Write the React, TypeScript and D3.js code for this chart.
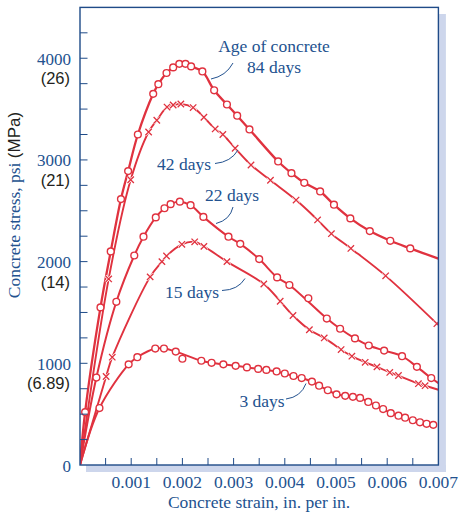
import React from "react";
import * as d3 from "d3";

// ---- data (strain in in./in., stress in psi) ----
const strain84 = [0, 0.0001, 0.0004, 0.0006, 0.0008, 0.00094, 0.00113, 0.00143, 0.00153, 0.00169, 0.00182, 0.00194, 0.00206, 0.00217, 0.00239, 0.00262, 0.00287, 0.00307, 0.00331, 0.00387, 0.00413, 0.00438, 0.00469, 0.00496, 0.00528, 0.00566, 0.00606, 0.00645, 0.007];
const stress84 = [0, 520, 1550, 2100, 2615, 2890, 3250, 3650, 3745, 3855, 3910, 3945, 3945, 3920, 3870, 3685, 3545, 3435, 3300, 2985, 2870, 2775, 2690, 2560, 2425, 2300, 2205, 2130, 2030];

const strain42 = [0, 0.00056, 0.00099, 0.00134, 0.0015, 0.0017, 0.00182, 0.00197, 0.00221, 0.00242, 0.00264, 0.00279, 0.00303, 0.00334, 0.00372, 0.00422, 0.00464, 0.00491, 0.00529, 0.00597, 0.00697];
const stress42 = [0, 1830, 2805, 3275, 3390, 3520, 3540, 3550, 3515, 3420, 3305, 3250, 3115, 2950, 2800, 2605, 2410, 2275, 2130, 1860, 1390];

const strain22 = [0, 0.00032, 0.00071, 0.00106, 0.00124, 0.00148, 0.00165, 0.00177, 0.00195, 0.00216, 0.00241, 0.0029, 0.00313, 0.0035, 0.00385, 0.00409, 0.00446, 0.00482, 0.00508, 0.00537, 0.00564, 0.00594, 0.00629, 0.00658, 0.00686, 0.007];
const stress22 = [0, 860, 1605, 2060, 2245, 2435, 2525, 2565, 2590, 2555, 2440, 2245, 2175, 2025, 1845, 1770, 1640, 1440, 1340, 1245, 1175, 1125, 1070, 965, 855, 805];

const strain15 = [0, 0.00051, 0.00063, 0.00137, 0.0016, 0.00169, 0.00199, 0.00224, 0.00242, 0.00287, 0.00359, 0.00391, 0.00416, 0.00448, 0.00477, 0.0051, 0.00531, 0.00557, 0.0058, 0.00605, 0.00622, 0.00661, 0.00674, 0.007];
const stress15 = [0, 870, 1060, 1850, 2000, 2055, 2170, 2195, 2150, 2000, 1780, 1610, 1470, 1330, 1250, 1135, 1070, 1010, 965, 910, 880, 800, 780, 740];

const strain3 = [0, 0.00038, 0.00095, 0.00112, 0.00147, 0.00164, 0.00187, 0.002, 0.00237, 0.00257, 0.0028, 0.00304, 0.00326, 0.00348, 0.00364, 0.00384, 0.004, 0.00417, 0.00433, 0.00453, 0.00467, 0.00484, 0.00501, 0.00518, 0.00533, 0.00547, 0.00563, 0.00578, 0.00592, 0.00607, 0.00622, 0.00635, 0.0065, 0.00664, 0.00677, 0.0069];
const stress3 = [0, 560, 990, 1060, 1145, 1145, 1115, 1045, 1025, 1005, 990, 975, 960, 945, 935, 920, 900, 875, 855, 820, 780, 735, 695, 680, 670, 660, 620, 585, 550, 510, 485, 465, 440, 420, 405, 395];

const yMajor = [0, 1000, 2000, 3000, 4000];
const yMPa = ["", "(6.89)", "(14)", "(21)", "(26)"];
const xMajor = [0.001, 0.002, 0.003, 0.004, 0.005, 0.006, 0.007];

const RED = "#e0323f";
const BLUE = "#23528f";
const FRAME = "#1f4b88";
const SHADOW = "#cdd6ec";
const SERIF = "'Liberation Serif', 'Times New Roman', serif";
const SANS = "'Liberation Sans', Arial, sans-serif";

type Series = {
  strain: number[];
  stress: number[];
  marker: "circle" | "x";
  offCurve: number[];
  markLast: boolean;
  width: number;
};

const series: Series[] = [
  { strain: strain84, stress: stress84, marker: "circle", offCurve: [], markLast: false, width: 2.3 },
  { strain: strain42, stress: stress42, marker: "x", offCurve: [], markLast: true, width: 1.9 },
  { strain: strain22, stress: stress22, marker: "circle", offCurve: [16], markLast: false, width: 2 },
  { strain: strain15, stress: stress15, marker: "x", offCurve: [], markLast: false, width: 1.9 },
  { strain: strain3, stress: stress3, marker: "circle", offCurve: [7], markLast: true, width: 2 },
];

export default function App() {
  const W = 460, H = 518;
  const L = 80, R = 438.4, T = 7.4, B = 465;
  const x = d3.scaleLinear().domain([0, 0.007]).range([L, R]);
  const y = d3.scaleLinear().domain([0, 4500]).range([B, T]);
  const yTicks = d3.range(250, 4500, 250);
  const xTicks = d3.range(1, 14).map((i) => i * 0.0005);

  const line = d3
    .line<[number, number]>()
    .x((d) => x(d[0]))
    .y((d) => y(d[1]))
    .curve(d3.curveCatmullRom.alpha(0.5));

  return (
    <svg width={W} height={H} style={{ position: "absolute", left: 0, top: 0, background: "#fff" }}>
      <defs>
        <clipPath id="plot">
          <rect x={L} y={T} width={R - L} height={B - T} />
        </clipPath>
      </defs>
      {/* shadow */}
      <rect x={R} y={14} width={7.5} height={B - 14 + 7} fill={SHADOW} />
      <rect x={86} y={B} width={R - 86 + 7.5} height={7} fill={SHADOW} />
      <rect x={L} y={T} width={R - L} height={B - T} fill="#fff" />

      {/* curves */}
      <g clipPath="url(#plot)">
        {series.map((s, si) => {
          const pts: [number, number][] = s.strain
            .map((v, i) => [v, s.stress[i]] as [number, number])
            .filter((_, i) => !s.offCurve.includes(i));
          return <path key={si} d={line(pts) || ""} fill="none" stroke={RED} strokeWidth={s.width} strokeLinejoin="round" />;
        })}
        {series.map((s, si) =>
          s.strain.map((v, i) => {
            if (i === 0) return null;
            if (i === s.strain.length - 1 && !s.markLast) return null;
            const cx = x(v), cy = y(s.stress[i]);
            if (s.marker === "circle")
              return <circle key={si + "-" + i} cx={cx} cy={cy} r={3.4} fill="#fff" stroke={RED} strokeWidth={1.4} />;
            const a = 3.2;
            const d = `M${cx - a},${cy - a}L${cx + a},${cy + a}M${cx - a},${cy + a}L${cx + a},${cy - a}`;
            return (
              <g key={si + "-" + i}>
                <path d={d} stroke="#fff" strokeWidth={2.6} />
                <path d={d} stroke={RED} strokeWidth={1.3} />
              </g>
            );
          })
        )}
      </g>

      {/* frame */}
      <rect x={L} y={T} width={R - L} height={B - T} fill="none" stroke={FRAME} strokeWidth={1.4} />
      {yTicks.map((t) => (
        <line key={"yt" + t} x1={L} x2={L + 7.5} y1={y(t)} y2={y(t)} stroke={FRAME} strokeWidth={1} />
      ))}
      {xTicks.map((t) => (
        <line key={"xt" + t} x1={x(t)} x2={x(t)} y1={B} y2={B - 7} stroke={FRAME} strokeWidth={1} />
      ))}

      {/* y labels */}
      {yMajor.map((v, i) => (
        <g key={"yl" + v}>
          <text x={71} y={y(v) + 6.5} textAnchor="end" fontFamily={SERIF} fontSize={17} fill={BLUE}>
            {v}
          </text>
          {yMPa[i] && (
            <text x={70} y={y(v) + 26} textAnchor="end" fontFamily={SANS} fontSize={16.5} fill="#231f20">
              {yMPa[i]}
            </text>
          )}
        </g>
      ))}
      {/* x labels */}
      {xMajor.map((v) => (
        <text key={"xl" + v} x={x(v)} y={488} textAnchor="middle" fontFamily={SERIF} fontSize={17.5} fill={BLUE}>
          {d3.format(".3f")(v)}
        </text>
      ))}

      {/* axis titles */}
      <text x={259} y={508} textAnchor="middle" fontFamily={SERIF} fontSize={17.5} fill={BLUE}>
        Concrete strain, in. per in.
      </text>
      <text transform="translate(20,205) rotate(-90)" textAnchor="middle" fontSize={17.5}>
        <tspan fontFamily={SERIF} fill={BLUE}>Concrete stress, psi </tspan>
        <tspan fontFamily={SANS} fill="#231f20" fontSize={17}>(MPa)</tspan>
      </text>

      {/* curve labels */}
      <g fontFamily={SERIF} fontSize={17.5} fill={BLUE}>
        <text x={274} y={52} textAnchor="middle">Age of concrete</text>
        <text x={274} y={73} textAnchor="middle">84 days</text>
        <text x={184} y={170} textAnchor="middle">42 days</text>
        <text x={232} y={201} textAnchor="middle">22 days</text>
        <text x={192} y={298} textAnchor="middle">15 days</text>
        <text x={262} y={407} textAnchor="middle">3 days</text>
      </g>
      <g fill="none" stroke={BLUE} strokeWidth={1}>
        <path d="M211,79 Q226,76 233,63" />
        <path d="M215,163.5 Q231,162 238,150" />
        <path d="M233,207 Q230,220 216,223.5" />
        <path d="M222,290.5 Q238,290 245,278.5" />
        <path d="M286,399 Q301,397 306,383.5" />
      </g>
    </svg>
  );
}
